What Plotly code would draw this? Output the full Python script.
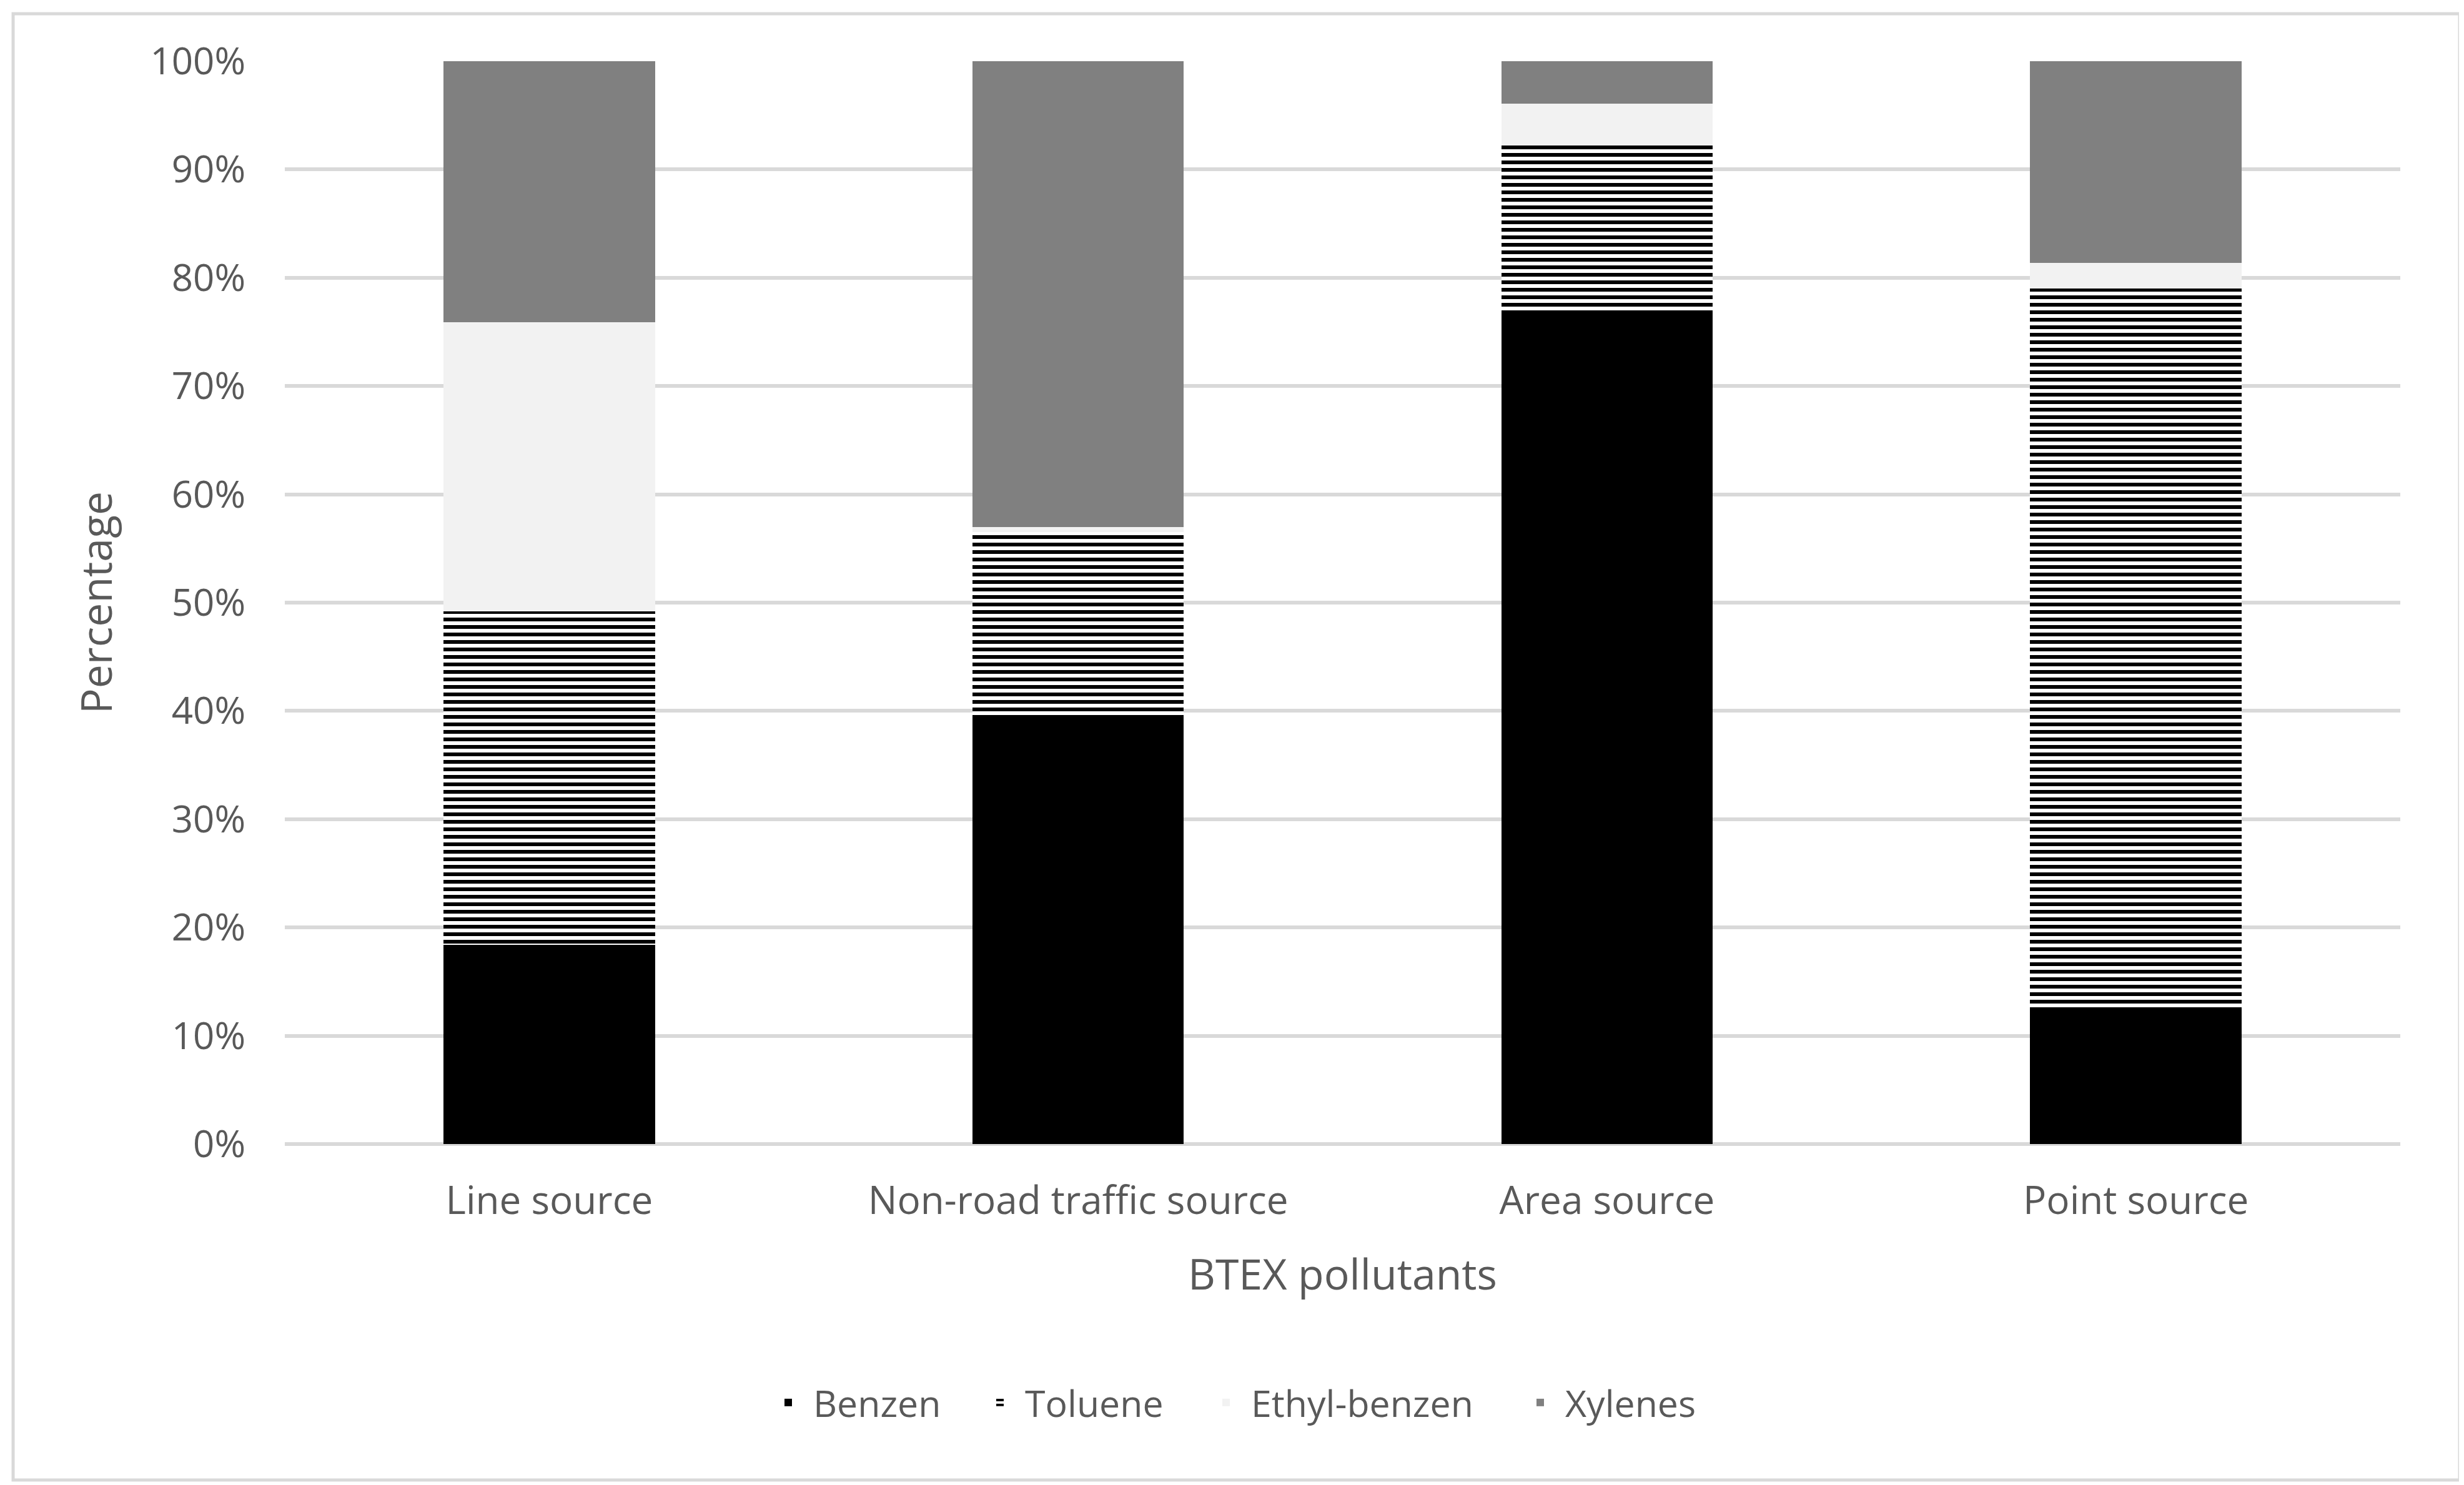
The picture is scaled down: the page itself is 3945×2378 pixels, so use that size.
import plotly.graph_objects as go

categories = ["Line source", "Non-road traffic source", "Area source", "Point source"]
benzen = [0.184, 0.395, 0.769, 0.123]
toluene = [0.308, 0.170, 0.153, 0.667]
ethyl_benzen = [0.267, 0.005, 0.039, 0.024]
xylenes = [0.241, 0.430, 0.039, 0.186]
series_names = ["Benzen", "Toluene", "Ethyl-benzen", "Xylenes"]

W, H = 3945, 2378
L, R, T, B = 448, W - 3835, 90, H - 1824
FONT = "Open Sans"
TXT = "#595959"
GRID = "#d9d9d9"

fig = go.Figure()
fig.add_bar(name=series_names[0], x=categories, y=benzen, legend="legend", showlegend=True,
            marker=dict(color="#000000", line=dict(width=0)))
fig.add_bar(name=series_names[1], x=categories, y=toluene, legend="legend2", showlegend=True,
            marker=dict(color="#ffffff", line=dict(width=0),
                        pattern=dict(shape="-", size=12, solidity=0.5, fgcolor="#000000",
                                     bgcolor="#ffffff", fillmode="replace")))
fig.add_bar(name=series_names[2], x=categories, y=ethyl_benzen, legend="legend3", showlegend=True,
            marker=dict(color="#f2f2f2", line=dict(width=0)))
fig.add_bar(name=series_names[3], x=categories, y=xylenes, legend="legend4", showlegend=True,
            marker=dict(color="#808080", line=dict(width=0)))

pw, ph = W - L - R, H - T - B
fig.add_shape(type="rect", xref="paper", yref="paper",
              x0=(13 - L) / pw, x1=(3930 - L) / pw,
              y0=-(2362 - (H - B)) / ph, y1=1 + (T - 14) / ph,
              line=dict(color=GRID, width=5), fillcolor="rgba(0,0,0,0)", layer="below")

# legend entries placed where the reference puts them (text start in px)
text_starts = [1304, 1643, 2005, 2508]
legend_common = dict(orientation="h", xref="container", yref="container", xanchor="left",
                     y=1 - 2238 / H, yanchor="middle", font=dict(size=59, color=TXT),
                     itemwidth=70, bgcolor="rgba(0,0,0,0)", borderwidth=0, visible=True)
legends = {}
for i, key in enumerate(["legend", "legend2", "legend3", "legend4"]):
    legends[key] = dict(legend_common, x=(text_starts[i] - 90) / W)

fig.update_layout(
    width=W, height=H,
    margin=dict(l=L, r=R, t=T, b=B, autoexpand=False),
    barmode="stack", bargap=0.6,
    showlegend=True,
    paper_bgcolor="white", plot_bgcolor="white",
    font=dict(family=FONT, size=61, color=TXT),
    **legends,
    xaxis=dict(showgrid=False, showline=False, ticks="", ticklabelstandoff=49,
               tickfont=dict(size=62, color=TXT),
               title=dict(text="BTEX pollutants", standoff=56, font=dict(size=68, color=TXT))),
    yaxis=dict(range=[0, 1], dtick=0.1, tickformat=".0%", showgrid=True, gridcolor=GRID, gridwidth=6,
               zeroline=True, zerolinecolor=GRID, zerolinewidth=6, showline=False, ticks="",
               ticklabelstandoff=62, tickfont=dict(size=60, color=TXT),
               title=dict(text="Percentage", standoff=38, font=dict(size=68, color=TXT))),
)

fig.write_html("out.html")
